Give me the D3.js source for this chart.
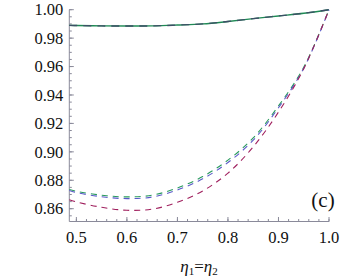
<!DOCTYPE html>
<html><head><meta charset="utf-8">
<script src="https://cdn.jsdelivr.net/npm/d3@7"></script>
<style>body{margin:0;background:#fff}svg{display:block}</style>
</head><body><div id="chart"></div>
<script>
const eta = [0.486, 0.5, 0.55, 0.6, 0.65, 0.7, 0.75, 0.8, 0.85, 0.9, 0.95, 1.0];
const topGreenSolid = [0.9890, 0.9889, 0.9886, 0.9885, 0.9886, 0.9892, 0.9900, 0.9917, 0.9937, 0.9956, 0.9975, 1.0];
const topDarkDashed = [0.9890, 0.9889, 0.9886, 0.9885, 0.9886, 0.9892, 0.9900, 0.9917, 0.9937, 0.9956, 0.9975, 1.0];
const lowGreenDashed = [0.8735, 0.8722, 0.8695, 0.8683, 0.8695, 0.8746, 0.8826, 0.8942, 0.9098, 0.9323, 0.9595, 1.0];
const lowBlueDashed = [0.8728, 0.8714, 0.8684, 0.8671, 0.8682, 0.8732, 0.8810, 0.8925, 0.9082, 0.9310, 0.9588, 1.0];
const lowPurpleDashed = [0.8663, 0.8648, 0.8610, 0.8589, 0.8597, 0.8645, 0.8725, 0.8850, 0.9035, 0.9280, 0.9585, 1.0];
const xTicks = [0.5, 0.6, 0.7, 0.8, 0.9, 1.0];
const yTicks = [0.86, 0.88, 0.90, 0.92, 0.94, 0.96, 0.98, 1.00];
const panelLabel = "(c)";

const FONT = "'Liberation Serif', 'Times New Roman', Times, serif";
const W = 341, H = 280;
const svg = d3.select("#chart").append("svg").attr("width", W).attr("height", H)
  .style("font-family", FONT);
const x = d3.scaleLinear().domain([0.486, 1.0]).range([69.3, 329]);
const y = d3.scaleLinear().domain([0.851, 1.0]).range([221.5, 9.7]);

const axCol = "#8a8a9a";
const gx = svg.append("g").attr("transform", `translate(0,${y.range()[0]})`);
gx.append("line").attr("x1", x.range()[0]).attr("x2", x.range()[1]).attr("stroke", axCol).attr("stroke-width", 1);
const xMinor = d3.range(0.5, 1.0001, 0.02).filter(v => x(v) >= x.range()[0] - 0.1);
gx.selectAll(".xm").data(xMinor).enter().append("line")
  .attr("x1", d => x(d)).attr("x2", d => x(d)).attr("y1", 0).attr("y2", -2.5).attr("stroke", axCol);
gx.selectAll(".xM").data(xTicks).enter().append("line")
  .attr("x1", d => x(d)).attr("x2", d => x(d)).attr("y1", 0).attr("y2", -4.5).attr("stroke", axCol);
gx.selectAll(".xl").data(xTicks).enter().append("text")
  .attr("x", d => x(d)).attr("y", 21).attr("text-anchor", "middle").attr("font-size", 16.5)
  .style("font-family", FONT).attr("fill", "#111")
  .text(d => d.toFixed(1));

const gy = svg.append("g").attr("transform", `translate(${x.range()[0]},0)`);
gy.append("line").attr("y1", y.range()[0]).attr("y2", y.range()[1]).attr("stroke", axCol);
const yMinor = d3.range(0.855, 1.0001, 0.005);
gy.selectAll(".ym").data(yMinor).enter().append("line")
  .attr("y1", d => y(d)).attr("y2", d => y(d)).attr("x1", 0).attr("x2", 2.5).attr("stroke", axCol);
gy.selectAll(".yM").data(yTicks).enter().append("line")
  .attr("y1", d => y(d)).attr("y2", d => y(d)).attr("x1", 0).attr("x2", 4.5).attr("stroke", axCol);
gy.selectAll(".yl").data(yTicks).enter().append("text")
  .attr("x", -6).attr("y", d => y(d)).attr("dy", "0.35em").attr("text-anchor", "end").attr("font-size", 16.5)
  .style("font-family", FONT).attr("fill", "#111")
  .text(d => d.toFixed(2));

const line = vals => d3.line().x((d, i) => x(eta[i])).y(d => y(d)).curve(d3.curveCatmullRom.alpha(0.5))(vals);
const plot = (vals, col, dash, w) => svg.append("path").attr("d", line(vals)).attr("fill", "none")
  .attr("stroke", col).attr("stroke-width", w).attr("stroke-dasharray", dash);

plot(topGreenSolid, "#1f8a55", null, 1.4);
plot(topDarkDashed, "#3d4f66", "8,6", 1.4);
plot(lowGreenDashed, "#2a9a5e", "6,5", 1.1);
plot(lowBlueDashed, "#5a5ac8", "6,5", 1.1);
plot(lowPurpleDashed, "#a0205e", "6,5", 1.1);

svg.append("text").attr("x", 323).attr("y", 207).attr("text-anchor", "middle").attr("font-size", 21)
  .style("font-family", FONT).attr("fill", "#111").text(panelLabel);

const t = svg.append("text").attr("x", 199).attr("y", 272).attr("text-anchor", "middle").attr("font-size", 17)
  .style("font-family", FONT).attr("fill", "#111");
t.append("tspan").attr("font-style", "italic").text("η");
t.append("tspan").attr("font-size", 11).attr("dy", 3).text("1");
t.append("tspan").attr("dy", -3).text("=");
t.append("tspan").attr("font-style", "italic").text("η");
t.append("tspan").attr("font-size", 11).attr("dy", 3).text("2");
</script></body></html>
